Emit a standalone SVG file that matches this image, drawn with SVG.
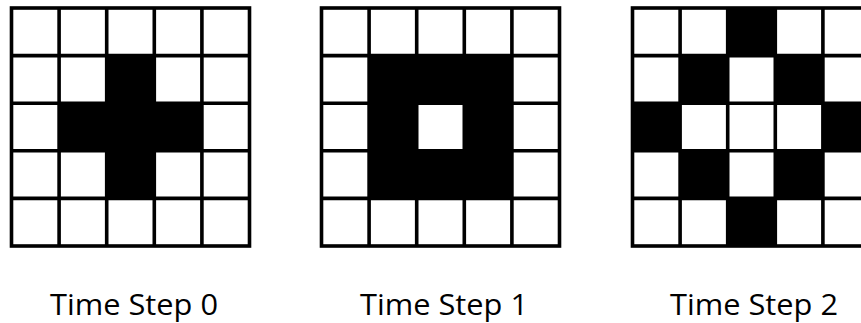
<svg xmlns="http://www.w3.org/2000/svg" width="861" height="323" viewBox="0 0 861 323">
<defs>
<style>
.cell{fill:#000}
.grid{fill:none;stroke:#000;stroke-width:3.6}
.lbl{font-family:"Open Sans","Noto Sans",sans-serif;font-size:29px;fill:#000;text-anchor:middle}
</style>
<g id="lines">
<rect class="grid" x="0" y="0" width="238" height="238"/>
<path class="grid" d="M47.6 0V238M95.2 0V238M142.8 0V238M190.4 0V238M0 47.6H238M0 95.2H238M0 142.8H238M0 190.4H238"/>
</g>
</defs>
<rect width="861" height="323" fill="#fff"/>
<g id="step0" transform="translate(11.5,8)">
<rect class="cell" x="95.2" y="47.6" width="47.6" height="47.6"/>
<rect class="cell" x="47.6" y="95.2" width="142.8" height="47.6"/>
<rect class="cell" x="95.2" y="142.8" width="47.6" height="47.6"/>
<use href="#lines"/>
</g>
<g id="step1" transform="translate(321.5,8)">
<path class="cell" fill-rule="evenodd" d="M47.6 47.6H190.4V190.4H47.6ZM95.2 95.2V142.8H142.8V95.2Z"/>
<use href="#lines"/>
</g>
<g id="step2" transform="translate(632.5,8)">
<rect class="cell" x="95.2" y="0" width="47.6" height="47.6"/>
<rect class="cell" x="47.6" y="47.6" width="47.6" height="47.6"/>
<rect class="cell" x="142.8" y="47.6" width="47.6" height="47.6"/>
<rect class="cell" x="0" y="95.2" width="47.6" height="47.6"/>
<rect class="cell" x="190.4" y="95.2" width="47.6" height="47.6"/>
<rect class="cell" x="47.6" y="142.8" width="47.6" height="47.6"/>
<rect class="cell" x="142.8" y="142.8" width="47.6" height="47.6"/>
<rect class="cell" x="95.2" y="190.4" width="47.6" height="47.6"/>
<use href="#lines"/>
</g>
<g id="labels">
<text id="label0" class="lbl" x="134" y="315" textLength="168" lengthAdjust="spacingAndGlyphs">Time Step 0</text>
<text id="label1" class="lbl" x="444" y="315" textLength="168" lengthAdjust="spacingAndGlyphs">Time Step 1</text>
<text id="label2" class="lbl" x="754" y="315" textLength="168" lengthAdjust="spacingAndGlyphs">Time Step 2</text>
</g>
</svg>
